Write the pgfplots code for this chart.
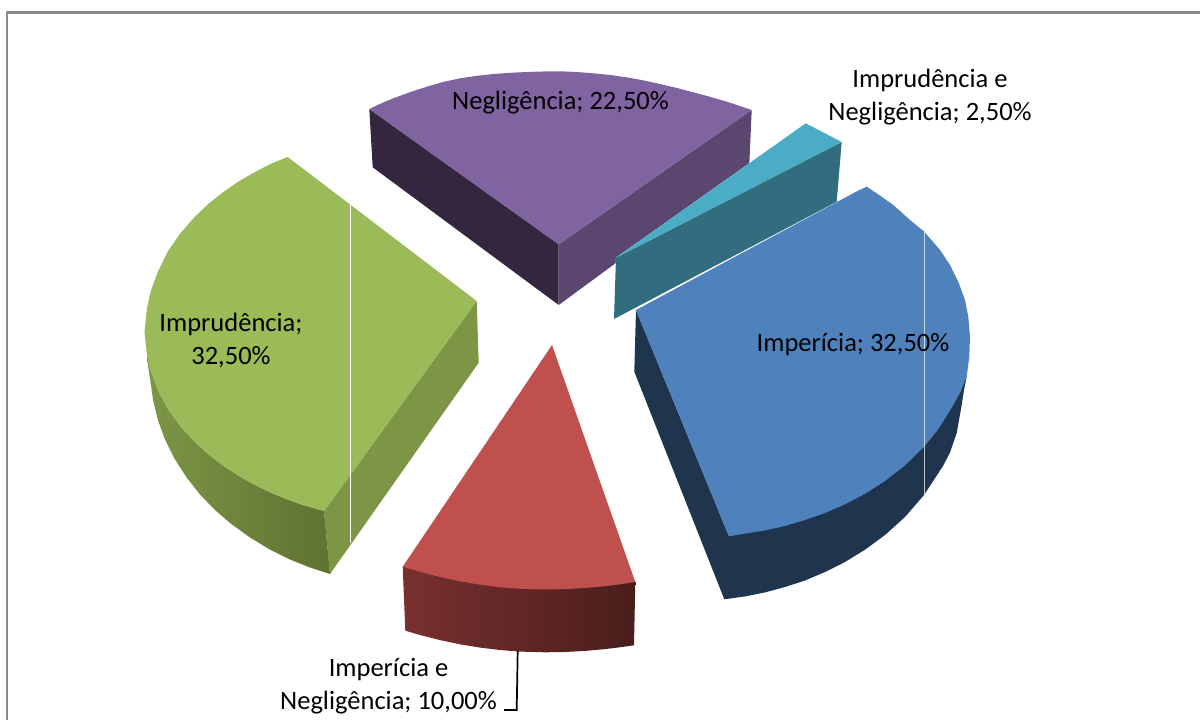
\documentclass[border=0pt]{standalone}
\usepackage{pgfplots}
\pgfplotsset{compat=1.18}
\usepackage{fontspec}
\setmainfont{Carlito}
\definecolor{gt}{HTML}{9BBB59}\definecolor{gs}{HTML}{7C9645}\definecolor{gsd}{HTML}{5F7232}
\definecolor{rt}{HTML}{C0504D}\definecolor{rsl}{HTML}{78302F}\definecolor{rsd}{HTML}{4A1E1C}
\definecolor{bt}{HTML}{4F81BD}\definecolor{bs}{HTML}{1F344D}
\definecolor{pt}{HTML}{8064A2}\definecolor{psl}{HTML}{352640}\definecolor{psr}{HTML}{5A466F}
\definecolor{tt}{HTML}{4BACC6}\definecolor{ts}{HTML}{316D7F}
\definecolor{fr}{HTML}{8A8A8A}
\begin{document}
\begin{tikzpicture}
\useasboundingbox (0,0) rectangle (1200pt,720pt);
\begin{axis}[
  width=1200pt,height=720pt,scale only axis,
  xmin=0,xmax=1200,ymin=0,ymax=720,y dir=reverse,
  axis lines=none,clip=true,
  every axis plot/.append style={no markers},
  nodes={font=\fontsize{26.5}{33}\selectfont,text=black},
]
% frame
\addplot[draw=fr,line width=2.4pt] coordinates {(7,720)(7,12.5)(1200,12.5)};
% green side
\addplot[draw=none,fill=gs] coordinates {(476.7,301)(478.7,362.7)(330,574)(324,511)} --cycle;
\addplot[draw=none,left color=gs,right color=gsd] coordinates {(147,355)(148,365)(151,385)(153,400)(158,420.4)(165,439.5)(175,459.5)(187,478)(200,494.5)(215,510)(230,523)(250,537.5)(270,549.6)(290,559.5)(310,567.5)(330,574)(324,511)(300,504)(285,498.5)(270,492.2)(255,485)(240,476.6)(225,466.9)(210,455.6)(195,442.2)(180,425.8)(168,409.2)(158,390)(151,371.7)} --cycle;
% green top
\addplot[draw=none,fill=gt] coordinates {(476.7,301)(287.7,157)(270,164.2)(255,172)(240,180.6)(225,190.7)(210,202.5)(195,216.6)(180,233.8)(168,251.2)(158,271.3)(151,290.5)(147,308)(144.5,332)(147,355)(151,371.7)(158,390)(168,409.2)(180,425.8)(195,442.2)(210,455.6)(225,466.9)(240,476.6)(255,485)(270,492.2)(285,498.5)(300,504)(324,511)} --cycle;
\addplot[draw=white,line width=1pt] coordinates {(350,203.5)(350,543)};
% purple
\addplot[draw=none,fill=psl] coordinates {(369.3,109)(372.7,167.3)(558.7,305)(558.7,244.3)} --cycle;
\addplot[draw=none,fill=psr] coordinates {(558.7,244.3)(751.7,110)(749.3,165)(558.7,305)} --cycle;
\addplot[draw=none,fill=pt] coordinates {(558.7,244.3)(369.3,109)(381,103.4)(393.3,98.3)(410,92.2)(426.7,86.7)(443,82)(460,78.3)(477,75.8)(493.3,74)(510,72.8)(526.7,72)(543,71.5)(560,71.3)(577,72)(593.3,73.3)(610,75)(626.7,77.3)(643,80.3)(660,84)(677,88)(693.3,92.3)(710,96.8)(726.7,101.7)(740,106)(751.7,110)} --cycle;
% teal
\addplot[draw=none,fill=white] coordinates {(616,257.7)(805.7,123.3)(841.7,142)(836.7,201.7)(614,319)} --cycle;
\addplot[draw=none,fill=ts] coordinates {(616,257.7)(841.7,142)(836.7,201.7)(614,319)} --cycle;
\addplot[draw=none,fill=tt] coordinates {(616,257.7)(805.7,123.3)(841.7,142)} --cycle;
% blue
\addplot[draw=none,fill=bs] coordinates {(636,310)(634.3,371.7)(724.3,599.3)(745,596.4)(765,592.4)(785,587)(805,580.5)(825,572)(845,562)(865,549.7)(885,535)(905,517)(924,495)(943,466)(950,452.5)(956.7,433)(961.7,405)(964,390)(966.7,376.7)(950,370)(729,536.3)} --cycle;
\addplot[draw=none,fill=bt] coordinates {(636,310)(858,190.7)(866.7,186.7)(876.7,193.3)(893.3,205)(910,220)(924.3,231.7)(940,250)(950,265)(958.3,281.7)(965,300)(968.3,316.7)(970,336.7)(969.3,356.7)(966.7,376.7)(960,393)(950,410.6)(938,429.6)(924,446.8)(905,465.4)(885,481)(865,493.8)(845,504.3)(825,513)(805,520)(785,525.9)(765,530.4)(745,533.6)(729,536.3)} --cycle;
\addplot[draw=white!70!bt,line width=1pt] coordinates {(924,231)(924,446)};
\addplot[draw=white!70!bs,line width=1pt] coordinates {(924,446)(924,495)};
% red
\addplot[draw=none,left color=rsl,right color=rsd] coordinates {(402.7,566.7)(405.3,630.7)(420,635)(440,640.1)(460,644.3)(480,647.6)(500,650)(520,651.6)(545,652.3)(565,652)(585,650.9)(605,649.1)(620,647.3)(634,645.3)(635.3,582)} --cycle;
\addplot[draw=none,fill=rt] coordinates {(552,345)(402.7,566.7)(420,571.8)(440,577)(460,581.3)(480,584.7)(500,587.2)(520,588.8)(545,589.5)(565,589.1)(585,588)(605,586.2)(620,584.3)(635.3,582)} --cycle;
\addplot[draw=black,line width=1.7pt] coordinates {(517.7,651)(516.7,710)(504,710)};
% labels
\node[align=center] at (axis cs:560.5,103) {Negligência; 22,50\%};
\node[align=center] at (axis cs:930,97.5) {Imprudência e\\Negligência; 2,50\%};
\node[align=center] at (axis cs:231,340) {Imprudência;\\32,50\%};
\node[align=center] at (axis cs:853,345) {Imperícia; 32,50\%};
\node[align=center] at (axis cs:388.5,686) {Imperícia e\\Negligência; 10,00\%};
\end{axis}
\end{tikzpicture}
\end{document}
